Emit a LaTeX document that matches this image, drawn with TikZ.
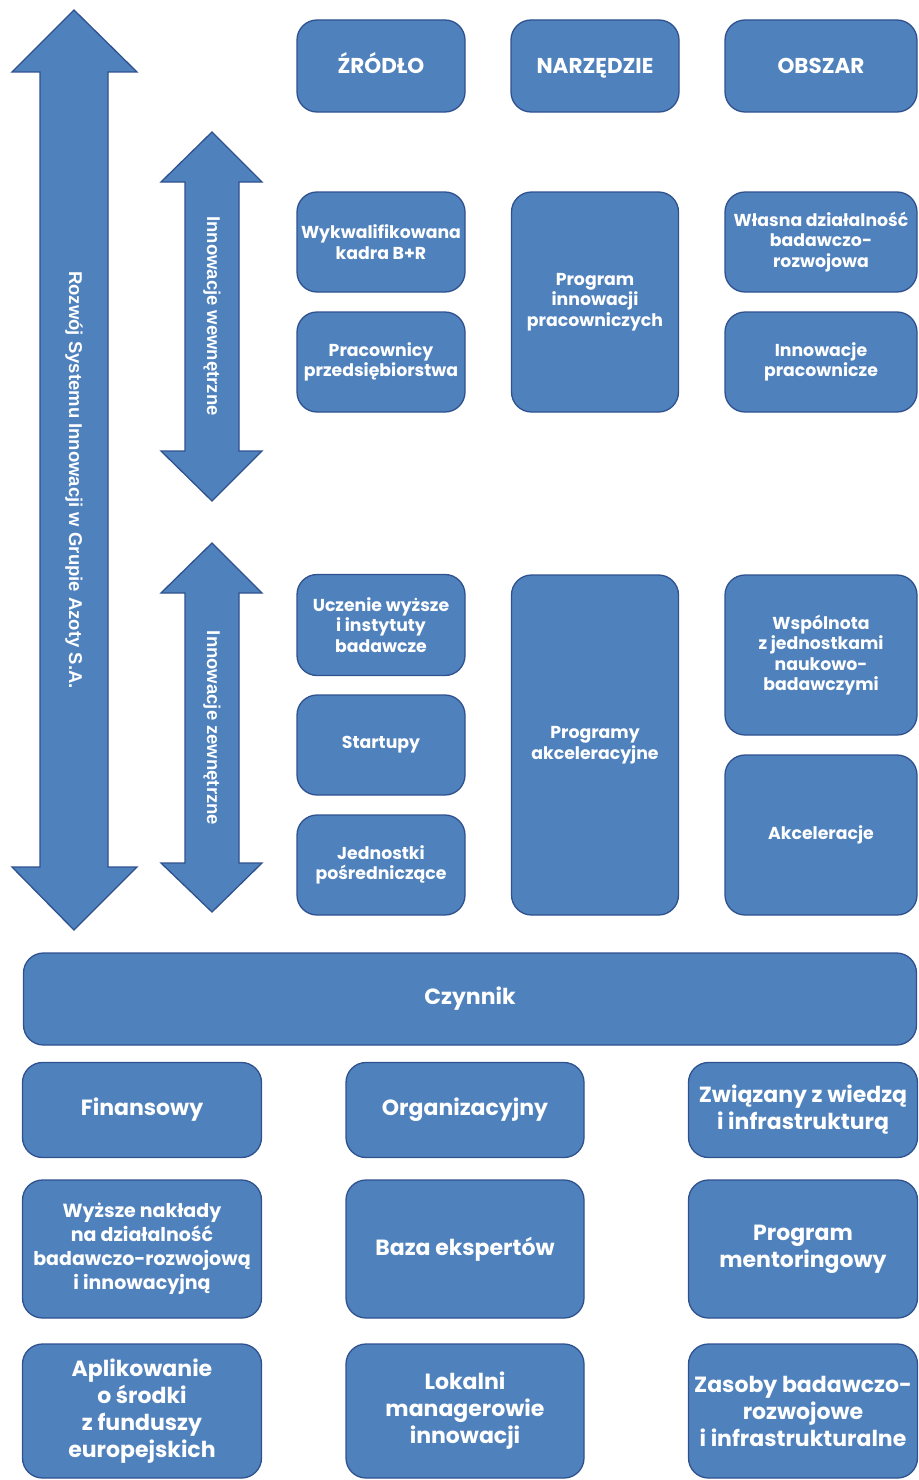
\documentclass[tikz,border=0pt]{standalone}
\usepackage{fontspec}
\setmainfont{Poppins}
\newfontfamily\arrowfont{Liberation Sans}
\usepackage{tikz}

\definecolor{boxblue}{HTML}{4F81BD}
\definecolor{edgeblue}{HTML}{2F528F}

\begin{document}
\begin{tikzpicture}[x=1pt,y=-1pt]
    \tikzstyle{box}=[rectangle,rounded corners=20pt,draw=edgeblue,line width=1.3pt,fill=boxblue,text=white,font=\bfseries,align=center,inner sep=2pt]
    \tikzstyle{arrowshape}=[draw=edgeblue,line width=1.3pt,fill=boxblue,line join=miter]
    \tikzstyle{arrowtext}=[text=white,font=\fontsize{18.5}{22}\selectfont\arrowfont\bfseries,rotate=-90]
    \tikzstyle{small}=[font=\fontsize{17.3}{20.5}\selectfont\bfseries]
    \tikzstyle{large}=[font=\fontsize{22}{27}\selectfont\bfseries]
    \tikzstyle{head}=[font=\fontsize{21.5}{26}\selectfont\bfseries,text height=15pt,text depth=0pt]
    \useasboundingbox (0,0) rectangle (918,1480);

    % arrows
    \draw[arrowshape] (74,10) -- (137,72) -- (108,72) -- (108,867) -- (137,867) -- (74,930)
        -- (12,867) -- (40,867) -- (40,72) -- (12,72) -- cycle;
    \draw[arrowshape] (212,132) -- (262,182) -- (239,182) -- (239,451) -- (262,451) -- (212,501)
        -- (161,451) -- (185,451) -- (185,182) -- (161,182) -- cycle;
    \draw[arrowshape] (212,543) -- (262,593) -- (239,593) -- (239,863) -- (262,863) -- (212,912)
        -- (161,863) -- (185,863) -- (185,593) -- (161,593) -- cycle;
    \node (rozwoj)[arrowtext] at (74,480) {Rozwój Systemu Innowacji w Grupie Azoty S.A.};
    \node (wewn)[arrowtext] at (212,316) {Innowacje wewnętrzne};
    \node (zewn)[arrowtext] at (212,728) {Innowacje zewnętrzne};

    % headers
    \node (zrodlo)[box,head,minimum width=168pt,minimum height=92pt] at (381,66) {ŹRÓDŁO};
    \node (narzedzie)[box,head,minimum width=168pt,minimum height=92pt] at (595,66) {NARZĘDZIE};
    \node (obszar)[box,head,minimum width=192pt,minimum height=92pt] at (821,66) {OBSZAR};

    % innowacje wewnetrzne
    \node (kadra)[box,small,minimum width=168pt,minimum height=100pt] at (381,242) {Wykwalifikowana\\kadra B+R};
    \node (pracownicy)[box,small,minimum width=168pt,minimum height=100pt] at (381,362) {Pracownicy\\przedsiębiorstwa};
    \node (program)[box,small,minimum width=167pt,minimum height=220pt] at (595,302) {Program\\innowacji\\pracowniczych};
    \node (wlasna)[box,small,minimum width=192pt,minimum height=100pt] at (821,242) {Własna działalność\\badawczo-\\rozwojowa};
    \node (innprac)[box,small,minimum width=192pt,minimum height=100pt] at (821,362) {Innowacje\\pracownicze};

    % innowacje zewnetrzne
    \node (uczelnie)[box,small,minimum width=168pt,minimum height=101pt] at (381,625) {Uczenie wyższe\\i instytuty\\badawcze};
    \node (startupy)[box,small,minimum width=168pt,minimum height=100pt] at (381,745) {Startupy};
    \node (jednostki)[box,small,minimum width=168pt,minimum height=100pt] at (381,865) {Jednostki\\pośredniczące};
    \node (akcprog)[box,small,minimum width=167pt,minimum height=340pt] at (595,745) {Programy\\akceleracyjne};
    \node (wspolnota)[box,small,minimum width=192pt,minimum height=160pt] at (821,655) {Wspólnota\\z jednostkami\\naukowo-\\badawczymi};
    \node (akceleracje)[box,small,minimum width=192pt,minimum height=160pt] at (821,835) {Akceleracje};

    % czynniki
    \node (czynnik)[box,large,minimum width=893pt,minimum height=92pt] at (470,999) {Czynnik};
    \node (finansowy)[box,large,minimum width=239pt,minimum height=95pt] at (142,1110) {Finansowy};
    \node (organizacyjny)[box,large,minimum width=238pt,minimum height=95pt] at (465,1110) {Organizacyjny};
    \node (wiedza)[box,large,minimum width=229pt,minimum height=95pt] at (803,1110) {Związany z wiedzą\\i infrastrukturą};
    \node (naklady)[box,font=\fontsize{19}{24}\selectfont\bfseries,minimum width=239pt,minimum height=138pt] at (142,1249) {Wyższe nakłady\\na działalność\\badawczo-rozwojową\\i innowacyjną};
    \node (eksperci)[box,large,minimum width=238pt,minimum height=138pt] at (465,1249) {Baza ekspertów};
    \node (mentoring)[box,large,minimum width=229pt,minimum height=138pt] at (803,1249) {Program\\mentoringowy};
    \node (aplikowanie)[box,large,minimum width=239pt,minimum height=134pt] at (142,1411) {Aplikowanie\\o środki\\z funduszy\\europejskich};
    \node (managerowie)[box,large,minimum width=238pt,minimum height=134pt] at (465,1411) {Lokalni\\managerowie\\innowacji};
    \node (zasoby)[box,large,minimum width=229pt,minimum height=134pt] at (803,1411) {Zasoby badawczo-\\rozwojowe\\i infrastrukturalne};
\end{tikzpicture}
\end{document}
